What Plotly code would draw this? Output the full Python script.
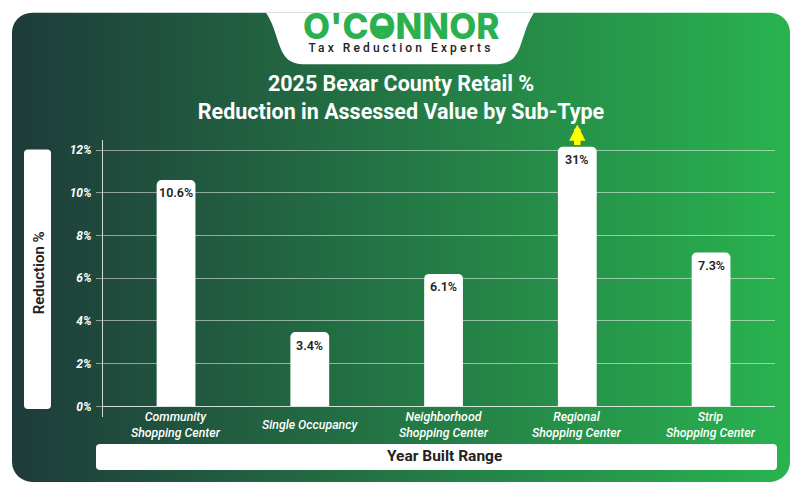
import base64

import plotly.graph_objects as go

W, H = 802, 494
L, R, T, B = 103, 775, 139.5, 417

CATEGORIES = [
    "Community<br>Shopping Center",
    "Single Occupancy",
    "Neighborhood<br>Shopping Center",
    "Regional<br>Shopping Center",
    "Strip<br>Shopping Center",
]
# Regional is really 31% but the source chart cuts the bar off just above 12%
BAR_HEIGHTS = [10.6, 3.48, 6.2, 12.15, 7.2]
BAR_LABELS = ["10.6%", "3.4%", "6.1%", "31%", "7.3%"]
Y_TICKS = [0, 2, 4, 6, 8, 10, 12]
Y_TICK_LABELS = ["0%", "2%", "4%", "6%", "8%", "10%", "12%"]

TITLE = "2025 Bexar County Retail %<br>Reduction in Assessed Value by Sub-Type"
GREEN = "#2BB04F"
GRID = "rgba(255,255,255,0.5)"
DARK = "#222222"


def px(x):
    return (x - L) / (R - L)


def py(y):
    return (B - y) / (B - T)


def pt(x, y):
    return f"{px(x):.5f},{py(y):.5f}"


def round_box(x0, y0, x1, y1, r):
    return (
        f"M{pt(x0 + r, y0)} L{pt(x1 - r, y0)} Q{pt(x1, y0)} {pt(x1, y0 + r)} "
        f"L{pt(x1, y1 - r)} Q{pt(x1, y1)} {pt(x1 - r, y1)} "
        f"L{pt(x0 + r, y1)} Q{pt(x0, y1)} {pt(x0, y1 - r)} "
        f"L{pt(x0, y0 + r)} Q{pt(x0, y0)} {pt(x0 + r, y0)} Z"
    )


def shape(path, color="white", layer="below"):
    return dict(
        type="path", path=path, xref="paper", yref="paper",
        fillcolor=color, line_width=0, layer=layer,
    )


svg = f"""<svg xmlns="http://www.w3.org/2000/svg" width="{W}" height="{H}" viewBox="0 0 {W} {H}">
<defs><linearGradient id="g" x1="0" y1="0" x2="1" y2="0">
<stop offset="0" stop-color="#1E3B3A"/><stop offset="1" stop-color="#29B34F"/>
</linearGradient></defs>
<rect x="12" y="12" width="778" height="470" rx="20" fill="url(#g)"/></svg>"""
background = "data:image/svg+xml;base64," + base64.b64encode(svg.encode()).decode()

tab_path = (
    f"M{pt(266, 12)} C{pt(274, 24)} {pt(276, 36)} {pt(280, 46)} "
    f"C{pt(284, 57)} {pt(290, 63)} {pt(302, 63.5)} L{pt(498, 63.5)} "
    f"C{pt(510, 63)} {pt(516, 57)} {pt(520, 46)} "
    f"C{pt(524, 36)} {pt(526, 24)} {pt(534, 12)} Z"
)

# the logo's O is half filled, with ruler notches along its top
logo_fill = f"M{pt(375, 25)} L{pt(390, 25)} L{pt(390, 33)} L{pt(375, 33)} Z"
logo_notches = [
    f"M{pt(x, 11)} L{pt(x + 2, 11)} L{pt(x + 2, 16)} L{pt(x, 16)} Z"
    for x in (382, 386, 390)
]

fig = go.Figure()

fig.add_trace(
    go.Bar(
        x=CATEGORIES,
        y=BAR_HEIGHTS,
        width=0.29,
        marker=dict(color="white", cornerradius=5, line_width=0),
        showlegend=False,
        hoverinfo="skip",
    )
)

# labels sit a fixed distance under the bar tops
for cat, height, label in zip(CATEGORIES, BAR_HEIGHTS, BAR_LABELS):
    fig.add_annotation(
        x=cat, y=height, text=label, yshift=-13, showarrow=False,
        xanchor="center", yanchor="middle",
        font=dict(family="Roboto", size=12.5, color=DARK, weight=600),
    )

# category names are centred vertically, which tick labels can't do
for cat in CATEGORIES:
    fig.add_annotation(
        x=cat, xref="x", y=py(425.5), yref="paper", text=cat, showarrow=False,
        xanchor="center", yanchor="middle",
        font=dict(family="Roboto", size=12.3, color="white", style="italic", weight=500),
    )

fig.add_annotation(
    x=CATEGORIES[3], xref="x", y=py(124), yref="paper",
    ax=0, ay=22, text="", showarrow=True,
    arrowhead=2, arrowsize=0.5, arrowwidth=6.5, arrowcolor="#FFFF00",
)

annotations = [
    dict(text="O'CONNOR", x=400.5, y=25, size=35, color=GREEN, family="Inter", weight=800),
    dict(text="Tax Reduction Experts", x=401, y=47.5, size=12, color=DARK, family="Roboto", weight=500),
    dict(text="Year Built Range", x=444.5, y=456.5, size=15.5, color=DARK, family="Roboto", weight="bold"),
]
for a in annotations:
    fig.add_annotation(
        text=a["text"], x=px(a["x"]), y=py(a["y"]), xref="paper", yref="paper",
        xanchor="center", yanchor="middle", showarrow=False,
        font=dict(size=a["size"], color=a["color"], family=a["family"], weight=a["weight"]),
    )
fig.add_annotation(
    text="Reduction %", x=px(38.5), y=py(272.5), xref="paper", yref="paper",
    xanchor="center", yanchor="middle", showarrow=False, textangle=-90,
    font=dict(size=15, color=DARK, family="Roboto", weight=600),
)

fig.update_xaxes(
    type="category",
    range=[-0.546, 4.478],
    showgrid=False,
    zeroline=False,
    showline=False,
    ticks="",
    showticklabels=False,
)
fig.update_yaxes(
    range=[-0.5, 12.47],
    tickvals=Y_TICKS,
    ticktext=Y_TICK_LABELS,
    showgrid=True,
    gridcolor=GRID,
    gridwidth=1.2,
    zeroline=True,
    zerolinecolor="rgba(255,255,255,0.8)",
    zerolinewidth=1,
    showline=True,
    linecolor="rgba(255,255,255,0.8)",
    linewidth=1,
    ticks="outside",
    ticklen=6,
    tickcolor=GRID,
    ticklabelstandoff=2,
    tickfont=dict(family="Roboto", size=12, color="white", style="italic", weight="bold"),
)

fig.update_layout(
    width=W,
    height=H,
    margin=dict(l=L, r=W - R, t=T, b=H - B, pad=0),
    paper_bgcolor="white",
    plot_bgcolor="rgba(0,0,0,0)",
    title=dict(
        text=TITLE,
        x=401 / W,
        xanchor="center",
        y=1 - 91 / H,
        yanchor="middle",
        font=dict(family="Roboto", size=21.5, color="white", weight="bold"),
    ),
    images=[
        dict(
            source=background, xref="paper", yref="paper",
            x=px(0), y=py(0), sizex=W / (R - L), sizey=H / (B - T),
            xanchor="left", yanchor="top", sizing="stretch", layer="below",
        )
    ],
    shapes=[
        shape(tab_path),
        shape(round_box(24, 149, 51, 409, 4)),
        shape(round_box(96, 444, 777, 470, 4)),
        shape(logo_fill, GREEN),
    ]
    + [shape(p, "white", "above") for p in logo_notches],
)

post_script = """
document.body.style.margin = '0';
document.querySelectorAll('text').forEach(function (t) {
  if (t.textContent === 'Tax Reduction Experts') { t.style.letterSpacing = '3.1px'; }
});
"""

fig.write_html("out.html", post_script=post_script, config=dict(displayModeBar=False))
